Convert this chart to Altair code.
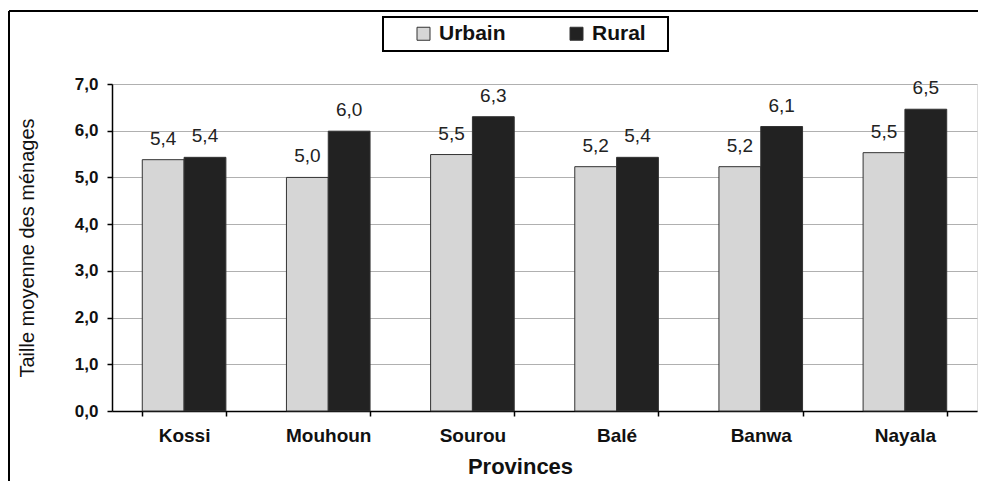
import altair as alt
import pandas as pd

provinces = ["Kossi", "Mouhoun", "Sourou", "Balé", "Banwa", "Nayala"]
series = ["Urbain", "Rural"]
urbain = [5.38, 5.00, 5.49, 5.23, 5.23, 5.53]
rural = [5.43, 5.99, 6.30, 5.43, 6.09, 6.46]
urbain_labels = ["5,4", "5,0", "5,5", "5,2", "5,2", "5,5"]
rural_labels = ["5,4", "6,0", "6,3", "5,4", "6,1", "6,5"]
y_ticks = [0, 1, 2, 3, 4, 5, 6, 7]

rows = []
for p, u, r, ul, rl in zip(provinces, urbain, rural, urbain_labels, rural_labels):
    rows.append({"province": p, "type": "Urbain", "value": u, "label": ul})
    rows.append({"province": p, "type": "Rural", "value": r, "label": rl})
df = pd.DataFrame(rows)

FONT = "Liberation Sans"
W = 865
H = 327

x_enc = alt.X(
    "province:N",
    sort=provinces,
    scale=alt.Scale(paddingInner=0.42, paddingOuter=0.21),
    axis=alt.Axis(
        title="Provinces",
        labelAngle=0,
        tickBand="extent",
        tickSize=5,
        tickColor="#000",
        tickWidth=1.5,
        domainColor="#000",
        domainWidth=1.5,
        labelFont=FONT,
        labelFontSize=19,
        labelFontWeight="bold",
        labelColor="#111",
        labelPadding=10,
        titleFont=FONT,
        titleFontSize=22,
        titleFontWeight="bold",
        titleColor="#111",
        titleX=408,
        titleY=55,
        titleBaseline="middle",
        grid=False,
    ),
)
xoff_enc = alt.XOffset("type:N", sort=series, scale=alt.Scale(paddingInner=0, paddingOuter=0))
y_enc = alt.Y(
    "value:Q",
    scale=alt.Scale(domain=[0, 7], nice=False),
    axis=alt.Axis(
        title="Taille moyenne des ménages",
        values=y_ticks,
        labelExpr="replace(format(datum.value, '.1f'), '.', ',')",
        tickSize=5,
        tickColor="#000",
        tickWidth=1.5,
        domainColor="#000",
        domainWidth=1.5,
        grid=True,
        gridColor="#b0b0b0",
        gridWidth=1,
        labelFont=FONT,
        labelFontSize=17,
        labelFontWeight="bold",
        labelColor="#111",
        labelPadding=9,
        titleFont=FONT,
        titleFontSize=20,
        titleFontWeight="normal",
        titleColor="#111",
        titleX=-85,
        titleY=H / 2,
        titleBaseline="middle",
        titleAngle=270,
    ),
)

color_enc = alt.Color(
    "type:N",
    sort=series,
    scale=alt.Scale(domain=series, range=["#d6d6d6", "#222222"]),
    legend=alt.Legend(
        title=None,
        orient="none",
        legendX=301,
        legendY=-61,
        direction="horizontal",
        columns=2,
        columnPadding=60,
        symbolType="square",
        symbolSize=169,
        symbolStrokeColor="#333",
        symbolStrokeWidth=1,
        labelFont=FONT,
        labelFontSize=21,
        labelFontWeight="bold",
        labelColor="#111",
        labelOffset=5,
        padding=0,
    ),
)

base = alt.Chart(df)

bars = base.mark_bar(stroke="#333", strokeWidth=1).encode(
    x=x_enc, xOffset=xoff_enc, y=y_enc, color=color_enc
)

texts = base.mark_text(
    baseline="bottom", dy=-11, font=FONT, fontSize=19, color="#222"
).encode(x=x_enc, xOffset=xoff_enc, y=y_enc, text="label:N")

one = pd.DataFrame({"k": [0]})
legend_box = alt.Chart(one).mark_rect(fill="white", stroke="#000", strokeWidth=2).encode(
    x=alt.value(271), x2=alt.value(556), y=alt.value(-67), y2=alt.value(-33)
)
frame_top = alt.Chart(one).mark_rule(color="#000", strokeWidth=2).encode(
    x=alt.value(-103), x2=alt.value(880), y=alt.value(-73)
)
frame_left = alt.Chart(one).mark_rule(color="#000", strokeWidth=2).encode(
    x=alt.value(-103), y=alt.value(-73), y2=alt.value(420)
)

chart = (
    alt.layer(frame_top, frame_left, legend_box, bars, texts)
    .properties(
        width=W,
        height=H,
        autosize=alt.AutoSizeParams(type="none"),
        padding={"left": 104, "top": 76, "right": 1, "bottom": 70},
    )
    .configure_view(stroke="#000", strokeWidth=1.5)
    .configure(font=FONT, background="white")
)

chart.save("out.html", embed_options={"renderer": "svg", "actions": False})
